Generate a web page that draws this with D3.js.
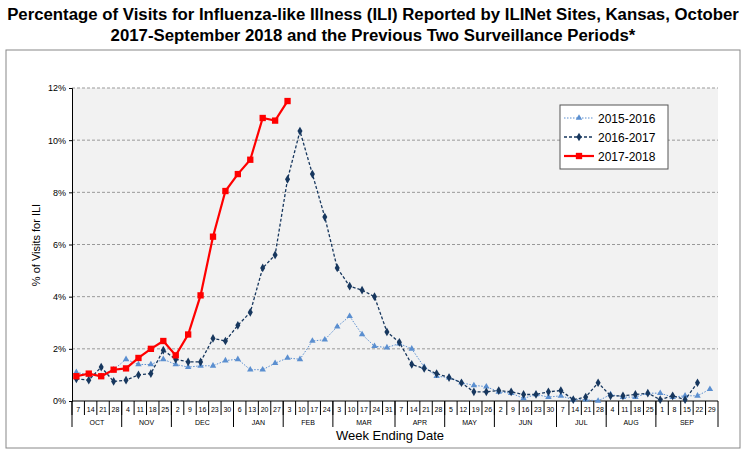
<!DOCTYPE html><html><head><meta charset="utf-8"><script src="https://cdn.jsdelivr.net/npm/d3@7"></script>
<style>body{margin:0;background:#fff;font-family:Arial,"Liberation Sans",sans-serif}</style></head><body><svg id="c" width="746" height="472"></svg><script>
const months=["OCT","NOV","DEC","JAN","FEB","MAR","APR","MAY","JUN","JUL","AUG","SEP"];
const weekDays=[[7,14,21,28],[4,11,18,25],[2,9,16,23,30],[6,13,20,27],[3,10,17,24],[3,10,17,24,31],[7,14,21,28],[5,12,19,26],[2,9,16,23,30],[7,14,21,28],[4,11,18,25],[1,8,15,22,29]];
const yTicks=[0,2,4,6,8,10,12];
const s1516=[1.1,1.0,0.95,1.2,1.6,1.4,1.4,1.6,1.4,1.3,1.35,1.35,1.55,1.6,1.2,1.2,1.45,1.65,1.6,2.3,2.35,2.85,3.25,2.55,2.1,2.05,2.2,2.0,1.3,0.95,0.9,0.7,0.6,0.55,0.35,0.3,0.1,0.25,0.15,0.2,0.05,0.05,0.0,0.25,0.15,0.15,0.3,0.3,0.15,0.2,0.2,0.45];
const s1617=[0.85,0.8,1.3,0.75,0.8,1.0,1.05,1.95,1.6,1.5,1.5,2.4,2.3,2.9,3.4,5.1,5.6,8.5,10.35,8.7,7.05,5.1,4.4,4.25,4.0,2.65,2.25,1.4,1.25,1.05,0.9,0.7,0.35,0.35,0.4,0.35,0.25,0.25,0.35,0.4,0.05,0.15,0.7,0.2,0.2,0.25,0.3,0.05,0.2,0.05,0.7];
const s1718=[0.95,1.05,0.95,1.2,1.25,1.65,2.0,2.3,1.75,2.55,4.05,6.3,8.05,8.7,9.25,10.85,10.75,11.5];
const svg=d3.select("#c");
svg.append("text").attr("x",373).attr("y",20).attr("text-anchor","middle").attr("font-size",16.8).attr("font-weight","bold").text("Percentage of Visits for Influenza-like Illness (ILI) Reported by ILINet Sites, Kansas, October");
svg.append("text").attr("x",373).attr("y",41).attr("text-anchor","middle").attr("font-size",16.8).attr("font-weight","bold").text("2017-September 2018 and the Previous Two Surveillance Periods*");
svg.append("rect").attr("x",6).attr("y",50).attr("width",734).attr("height",398).attr("fill","none").attr("stroke","#888");
const L=72,R=718,T=88,B=401;
const x=d3.scaleLinear().domain([0,52]).range([L,R]);
const y=d3.scaleLinear().domain([0,12]).range([B,T]);
svg.append("rect").attr("x",L).attr("y",T).attr("width",R-L).attr("height",B-T).attr("fill","#f2f2f2");
yTicks.slice(1).forEach(t=>svg.append("line").attr("x1",L).attr("x2",R).attr("y1",y(t)).attr("y2",y(t)).attr("stroke","#999").attr("stroke-dasharray","3,2"));
svg.append("g").attr("transform",`translate(${L},0)`).call(d3.axisLeft(y).tickValues(yTicks).tickSize(3).tickFormat(d=>d+"%")).call(g=>{g.selectAll("text").attr("font-size",9).attr("font-family","Arial");g.select(".domain").attr("stroke","#000");});
svg.append("text").attr("transform","translate(40,245) rotate(-90)").attr("text-anchor","middle").attr("font-size",11).text("% of Visits for ILI");
const ax=svg.append("g");
ax.append("line").attr("x1",L).attr("x2",R).attr("y1",B).attr("y2",B).attr("stroke","#000");
let k=0;
weekDays.forEach((ds,mi)=>{
  const start=k;
  ds.forEach(d=>{
    ax.append("text").attr("x",x(k+0.5)).attr("y",B+11).attr("text-anchor","middle").attr("font-size",7).attr("font-family","Arial").text(d);
    ax.append("line").attr("x1",x(k)).attr("x2",x(k)).attr("y1",B).attr("y2",B+14).attr("stroke","#000");
    k++;
  });
  ax.append("line").attr("x1",x(start)).attr("x2",x(start)).attr("y1",B).attr("y2",B+26).attr("stroke","#000");
  ax.append("text").attr("x",x((start+k)/2)).attr("y",B+24).attr("text-anchor","middle").attr("font-size",7).attr("font-family","Arial").text(months[mi]);
});
ax.append("line").attr("x1",x(52)).attr("x2",x(52)).attr("y1",B).attr("y2",B+26).attr("stroke","#000");
svg.append("text").attr("x",390).attr("y",440).attr("text-anchor","middle").attr("font-size",13).text("Week Ending Date");
const line=d3.line().x((d,i)=>x(i+0.35)).y(d=>y(d));
function series(data,color,width,dash,sym,size){
  svg.append("path").attr("d",line(data)).attr("fill","none").attr("stroke",color).attr("stroke-width",width).attr("stroke-dasharray",dash);
  svg.append("g").selectAll("path").data(data).join("path").attr("transform",(d,i)=>`translate(${x(i+0.35)},${y(d)})`).attr("d",d3.symbol(sym,size)).attr("fill",color);
}
series(s1516,"#5b8fd0",1,"1.5,1.5",d3.symbolTriangle,18);
series(s1617,"#17375e",1.3,"3,2",d3.symbolDiamond,22);
series(s1718,"#ff0000",2.2,null,d3.symbolSquare,40);
const lg=svg.append("g").attr("transform","translate(560,105)");
lg.append("rect").attr("width",108).attr("height",64).attr("fill","#fff").attr("stroke","#555");
const items=[["2015-2016","#5b8fd0","1.5,1.5",d3.symbolTriangle,18,1],["2016-2017","#17375e","3,2",d3.symbolDiamond,22,1.3],["2017-2018","#ff0000",null,d3.symbolSquare,40,2.2]];
items.forEach((it,i)=>{const yy=13+i*19;
  lg.append("line").attr("x1",4).attr("x2",34).attr("y1",yy).attr("y2",yy).attr("stroke",it[1]).attr("stroke-width",it[5]).attr("stroke-dasharray",it[2]);
  lg.append("path").attr("transform",`translate(19,${yy})`).attr("d",d3.symbol(it[3],it[4])).attr("fill",it[1]);
  lg.append("text").attr("x",38).attr("y",yy+4.5).attr("font-size",12).text(it[0]);});
</script></body></html>
